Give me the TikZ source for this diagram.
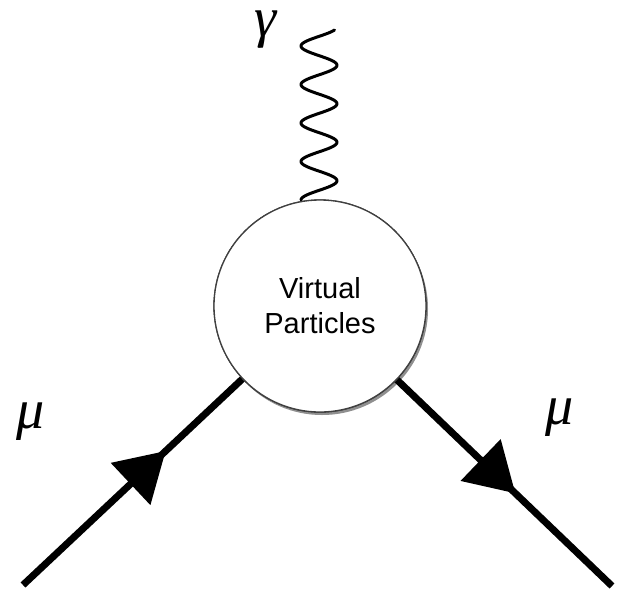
\documentclass[tikz,border=0pt]{standalone}
\usepackage{fontspec}
\setsansfont{Liberation Sans}
\newfontfamily\greekfont{Liberation Serif}
\usetikzlibrary{decorations.markings,shadows}
\begin{document}
\begin{tikzpicture}[x=1pt,y=-1pt,
  fermion/.style={line width=7pt},
  blob/.style={circle, draw=black!75, line width=1.3pt, fill=white, minimum size=212pt, inner sep=0pt,
    font=\sffamily\fontsize{29}{35}\selectfont, align=center,
    drop shadow={shadow xshift=2pt, shadow yshift=-3pt, opacity=0.25, fill=black}},
  photon/.style={line width=3pt, line join=round, line cap=round},
  lab/.style={font=\greekfont\itshape\fontsize{56}{62}\selectfont, inner sep=0pt,
    text height=0.46em, text depth=0.22em},
  arrowat/.style={postaction={decorate, decoration={markings,
    mark=at position #1 with {\fill (0pt,0pt) -- (-48pt,29pt) -- (-48pt,-29pt) -- cycle;}}}}]
\useasboundingbox (0,0) rectangle (620,590);
\coordinate (lin) at (23,585);
\coordinate (rout) at (612,586);
\coordinate (gtop) at (335,30);
\node[blob] (c) at (320,306) {};
\draw[fermion, arrowat=0.65] (lin) -- (c);
\draw[fermion, arrowat=0.55] (c) -- (rout);
\draw[photon] plot[domain=0:170, samples=160, smooth] ({319-18*cos(9.3506*\x)}, {200-\x});
\node[blob] (c) at (320,306) {Virtual\\Particles};
\node[lab] (gam) at (266,35) {γ};
\node[lab] (mul) at (31,427) {μ};
\node[lab] (mur) at (560,423) {μ};
\end{tikzpicture}
\end{document}
